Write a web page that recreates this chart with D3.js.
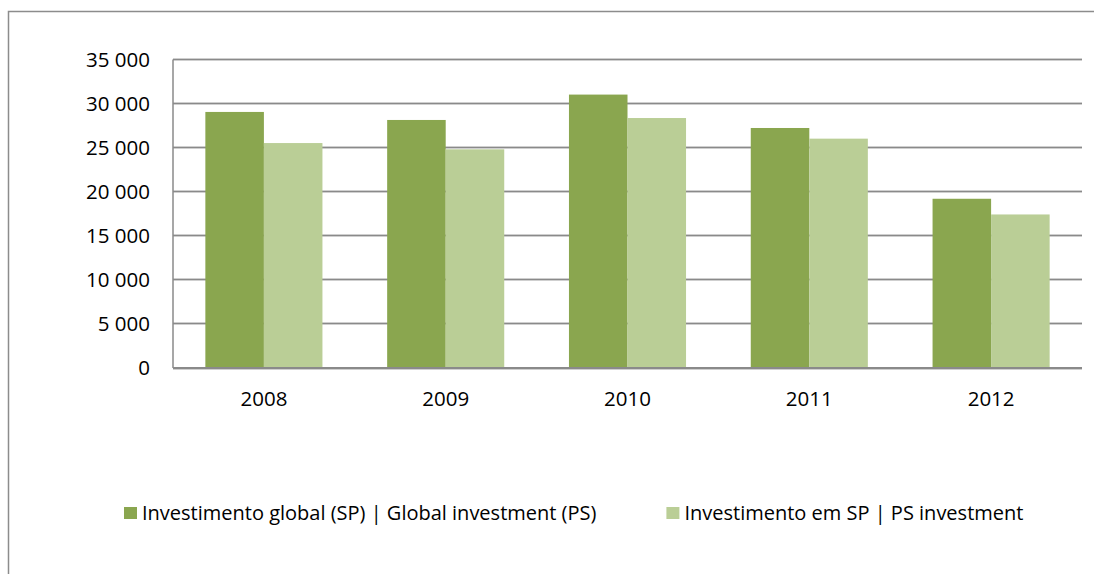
<!DOCTYPE html>
<meta charset="utf-8">
<style>
body { margin: 0; background: #fff; }
text { font-family: "Open Sans", sans-serif; fill: #000; }
.axis path, .axis line { display: none; }
</style>
<svg width="1094" height="574"></svg>
<script src="https://d3js.org/d3.v7.min.js"></script>
<script>

// data
let years = ["2008", "2009", "2010", "2011", "2012"];
let globalInv = [29050, 28140, 31020, 27230, 19200];
let spInv = [25520, 24810, 28360, 26020, 17420];
let seriesNames = ["Investimento global (SP) | Global investment (PS)", "Investimento em SP | PS investment"];
let seriesColors = ["#8AA64F", "#BACE96"];
let yTicks = [0, 5000, 10000, 15000, 20000, 25000, 30000, 35000];

let svg = d3.select("svg"),
    margin = {top: 59.5, right: 12, bottom: 206, left: 173},
    width = +svg.attr("width") - margin.left - margin.right,
    height = +svg.attr("height") - margin.top - margin.bottom;

// outer chart border (right and bottom edges fall outside the picture)
svg.append("rect")
    .attr("x", 8.5).attr("y", 11.5)
    .attr("width", 1100).attr("height", 600)
    .attr("fill", "none")
    .attr("stroke", "#8c8c8c")
    .attr("stroke-width", 1.5);

let g = svg.append("g").attr("transform", "translate(" + margin.left + "," + margin.top + ")");

let x0 = d3.scaleBand().domain(years).range([0, width]).paddingInner(0.356).paddingOuter(0.178);
let x1 = d3.scaleBand().domain([0, 1]).range([0, x0.bandwidth()]);
let y = d3.scaleLinear().domain([0, 35000]).range([height, 0]);

let fmt = function(d) { return d3.format(",")(d).replace(/,/g, " "); };

// gridlines
let grid = g.append("g").selectAll("g")
    .data(yTicks)
    .enter().append("g")
    .attr("transform", function(d) { return "translate(0," + Math.round(y(d)) + ")"; });
grid.append("line")
    .attr("x1", 0).attr("x2", width)
    .attr("stroke", "#cfcfcf").attr("stroke-width", 3);
grid.append("line")
    .attr("x1", 0).attr("x2", width)
    .attr("stroke", "#8a8a8a").attr("stroke-width", 1.2);

// left axis line
g.append("line")
    .attr("x1", 0).attr("x2", 0)
    .attr("y1", y(35000)).attr("y2", height)
    .attr("stroke", "#8a8a8a").attr("stroke-width", 1.5);

// bars
let rows = years.map(function(yr, i) { return {year: yr, values: [globalInv[i], spInv[i]]}; });

let grp = g.selectAll(".year")
    .data(rows)
    .enter().append("g")
    .attr("class", "year")
    .attr("transform", function(d) { return "translate(" + x0(d.year) + ",0)"; });

grp.selectAll("rect")
    .data(function(d) { return d.values.map(function(v, k) { return {k: k, v: v}; }); })
    .enter().append("rect")
    .attr("x", function(d) { return x1(d.k); })
    .attr("width", x1.bandwidth())
    .attr("y", function(d) { return y(d.v); })
    .attr("height", function(d) { return height - y(d.v); })
    .attr("fill", function(d) { return seriesColors[d.k]; });

// bottom axis line over bars
g.append("line")
    .attr("x1", 0).attr("x2", width)
    .attr("y1", height).attr("y2", height)
    .attr("stroke", "#8a8a8a").attr("stroke-width", 2);

// axes
g.append("g")
    .attr("class", "axis axis--y")
    .call(d3.axisLeft(y).tickValues(yTicks).tickFormat(fmt).tickSize(0).tickPadding(23))
    .selectAll("text")
    .style("font-size", "20.5px")
    .style("font-family", "'Open Sans', sans-serif")
    .attr("dy", "0.34em");

g.append("g")
    .attr("class", "axis axis--x")
    .attr("transform", "translate(0," + height + ")")
    .call(d3.axisBottom(x0).tickSize(0).tickPadding(23))
    .selectAll("text")
    .style("font-size", "20.5px")
    .style("font-family", "'Open Sans', sans-serif")
    .attr("dy", "0.71em");

// legend
let legend = svg.append("g").attr("transform", "translate(124,507)");
let lx = 0;
seriesNames.forEach(function(name, i) {
    let item = legend.append("g").attr("transform", "translate(" + lx + ",0)");
    item.append("rect")
        .attr("width", 13).attr("height", 12)
        .attr("fill", seriesColors[i]);
    let t = item.append("text")
        .attr("x", 18).attr("y", 13)
        .style("font-size", "20px")
        .text(name);
    lx += 18 + t.node().getComputedTextLength() + 70;
});

</script>
